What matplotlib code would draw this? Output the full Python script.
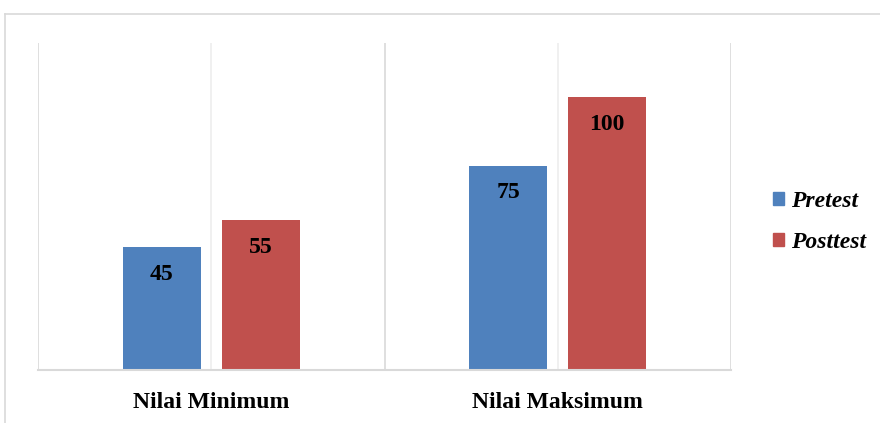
import matplotlib
matplotlib.use("Agg")
import matplotlib.pyplot as plt
from matplotlib.lines import Line2D
from matplotlib.patches import Patch

categories = ["Nilai Minimum", "Nilai Maksimum"]
series_names = ["Pretest", "Posttest"]
pretest = [45, 75]
posttest = [55, 100]
colors = ["#4F81BD", "#C0504D"]

W, H = 880, 423
fig = plt.figure(figsize=(W / 100, H / 100), dpi=100)
ax = fig.add_axes([38 / W, 1 - 370 / H, (731 - 38) / W, (370 - 43) / H])

serif = ["Liberation Serif", "DejaVu Serif"]

# figure border
fig.add_artist(Line2D([5 / W, 1.0], [1 - 14 / H, 1 - 14 / H], transform=fig.transFigure,
                      color="#D9D9D9", lw=1.2))
fig.add_artist(Line2D([5 / W, 5 / W], [1 - 14 / H, 0.0], transform=fig.transFigure,
                      color="#D9D9D9", lw=1.2))

x = list(range(len(categories)))
ax.set_xlim(-0.5, len(categories) - 0.5)
ax.set_ylim(0, 120)

for xb in [i - 0.5 for i in range(len(categories) + 1)]:
    ax.axvline(xb, color="#D9D9D9", lw=1.2, zorder=1)
for xc in x:
    ax.axvline(xc, color="#EDEDED", lw=1.2, zorder=1)

offset = 0.1425
width = 0.225
for vals, off, col, name in [(pretest, -offset, colors[0], series_names[0]),
                              (posttest, offset, colors[1], series_names[1])]:
    bars = ax.bar([xi + off for xi in x], vals, width=width, color=col, zorder=2, label=name)
    for b, v in zip(bars, vals):
        ax.annotate(str(v), (b.get_x() + b.get_width() / 2, v), xytext=(0, -27),
                    textcoords="offset pixels", ha="center", va="center",
                    fontsize=17, fontweight="bold", family=serif, color="black", zorder=3)

for s in ["top", "left", "right"]:
    ax.spines[s].set_visible(False)
ax.spines["bottom"].set_color("#D9D9D9")
ax.spines["bottom"].set_linewidth(1.5)
ax.set_yticks([])
ax.set_xticks(x)
ax.set_xticklabels(categories, fontsize=17, fontweight="bold", family=serif)
ax.tick_params(axis="x", length=0, pad=16)

handles = [Patch(color=c) for c in colors]
fig.legend(handles, series_names, loc="center left", bbox_to_anchor=(773 / W, 1 - 222 / H),
           frameon=False, borderpad=0, borderaxespad=0,
           handlelength=0.47, handleheight=0.47, handletextpad=0.3,
           labelspacing=0.85, prop={"family": serif, "size": 17, "weight": "bold", "style": "italic"})

fig.savefig("out.png", dpi=100)
